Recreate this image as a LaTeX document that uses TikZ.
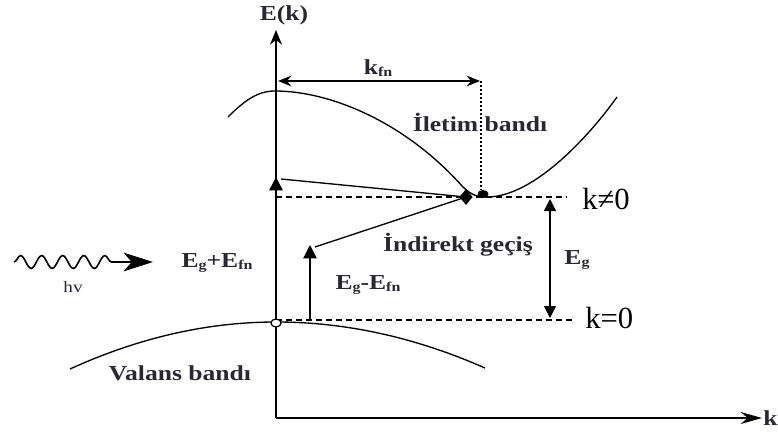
\documentclass[tikz,border=0pt]{standalone}
\usepackage{fontspec}
\setmainfont{Liberation Serif}
\newfontfamily\labf[FakeStretch=1.2]{Liberation Serif}
\usetikzlibrary{arrows.meta,decorations.pathmorphing,shapes.geometric}
\definecolor{labc}{RGB}{40,40,50}
\newcommand{\sbs}[1]{\raisebox{-1pt}{\fontsize{10}{10}\selectfont #1}}
\begin{document}
\begin{tikzpicture}[x=0.75pt,y=-0.75pt,
  lbl/.style={font=\labf\bfseries\fontsize{16}{18}\selectfont, text=labc, inner sep=0pt},
  big/.style={font=\fontsize{23}{26}\selectfont, inner sep=0pt},
  axis/.style={line width=1.3pt},
  band/.style={line width=1pt},
  dline/.style={line width=0.8pt, dash pattern=on 4.5pt off 3pt},
  tri/.style={-{Triangle[length=10pt,width=10pt]}},
  dtri/.style={{Triangle[length=9pt,width=9pt]}-{Triangle[length=9pt,width=9pt]}},
  thin/.style={line width=1pt}]
\useasboundingbox (0,0) rectangle (778,432);

% coordinates
\coordinate (O) at (276,418);
\coordinate (Ytop) at (276,30);
\coordinate (Xend) at (762,418);
\coordinate (VL) at (70,369);
\coordinate (VP) at (276,322);
\coordinate (VR) at (485,368);
\coordinate (CL) at (228,117);
\coordinate (CP) at (275,91);
\coordinate (CM) at (488,197);
\coordinate (CR) at (617,97);
\coordinate (D1a) at (276,197);
\coordinate (D1b) at (567,197);
\coordinate (D2a) at (276,320);
\coordinate (D2b) at (572,320);
\coordinate (A1b) at (276,322);
\coordinate (A1) at (276,177);
\coordinate (A1r) at (281,179);
\coordinate (A2b) at (310,320);
\coordinate (A2) at (310,245);
\coordinate (A2r) at (315,247);
\coordinate (G1) at (550,199);
\coordinate (G2) at (550,318);
\coordinate (K1) at (278,81);
\coordinate (K2) at (480,81);
\coordinate (P1) at (481,81);
\coordinate (P2) at (481,190);
\coordinate (W1) at (14,262);
\coordinate (W3) at (121.4,262);
\coordinate (W2) at (153,262);

% axes
\draw[axis,-{Stealth[length=11pt,width=9pt]}] (O) -- (Ytop);
\draw[axis,-{Stealth[length=16pt,width=9pt]}] (O) -- (Xend);
\node[lbl] (Ek) at (284,15) {E(k)};
\node[lbl,anchor=west] (kax) at (763,418) {k};

% bands
\draw[band] (VL) .. controls (138.7,337.7) and (207.3,322) .. (VP)
  .. controls (345.7,322) and (415.3,337.3) .. (VR);
\draw[band] (CL) .. controls (245,100) and (258,91) .. (CP)
  .. controls (330,91) and (405,122) .. (462,186)
  .. controls (472,196) and (478,197) .. (CM)
  .. controls (535,196) and (590,135) .. (CR);

% dashed levels
\draw[dline] (D1a) -- (D1b);
\draw[dline] (D2a) -- (D2b);

% transitions
\draw[thin,tri] (A1b) -- (A1);
\draw[thin,tri] (A2b) -- (A2);
\node[diamond, fill=black, inner sep=0pt, minimum width=10pt, minimum height=12pt] (dm) at (466,197) {};
\draw[thin] (A1r) -- (dm.center);
\draw[thin] (dm.center) -- (A2r);
\fill (483,194) ellipse [x radius=5.5, y radius=4];
\draw[line width=0.9pt, fill=white] (276,323) ellipse [x radius=5, y radius=4];

% Eg arrow
\draw[thin,dtri] (G1) -- (G2);
\node[lbl] (Eg) at (577,260) {E\sbs{g}};
\node[big,anchor=west] (kne) at (582,199) {k≠0};
\node[big,anchor=west] (keq) at (585,318) {k=0};

% kfn
\draw[thin,{Stealth[length=10pt,width=8pt]}-{Stealth[length=10pt,width=8pt]}] (K1) -- (K2);
\node[lbl] (kfn) at (378,68) {k\sbs{fn}};
\draw[line width=1.3pt, dash pattern=on 1.5pt off 1.5pt] (P1) -- (P2);

% labels
\node[lbl] (ilet) at (480,122) {İletim bandı};
\node[lbl] (EgpE) at (217,263) {E\sbs{g}+E\sbs{fn}};
\node[lbl] (EgmE) at (368,285) {E\sbs{g}-E\sbs{fn}};
\node[lbl] (indir) at (458,245) {İndirekt geçiş};
\node[lbl] (val) at (180,373) {Valans bandı};
\node[lbl, font=\labf\fontsize{12}{14}\selectfont] (hv) at (73,287) {hv};

% photon
\draw[line width=1.2pt, decorate, decoration={snake, segment length=15.8pt, amplitude=4.8pt}] (W1) -- (W3);
\draw[line width=1.2pt, -{Stealth[length=22pt,width=14pt,inset=6pt]}] (W3) -- (W2);
\end{tikzpicture}
\end{document}
